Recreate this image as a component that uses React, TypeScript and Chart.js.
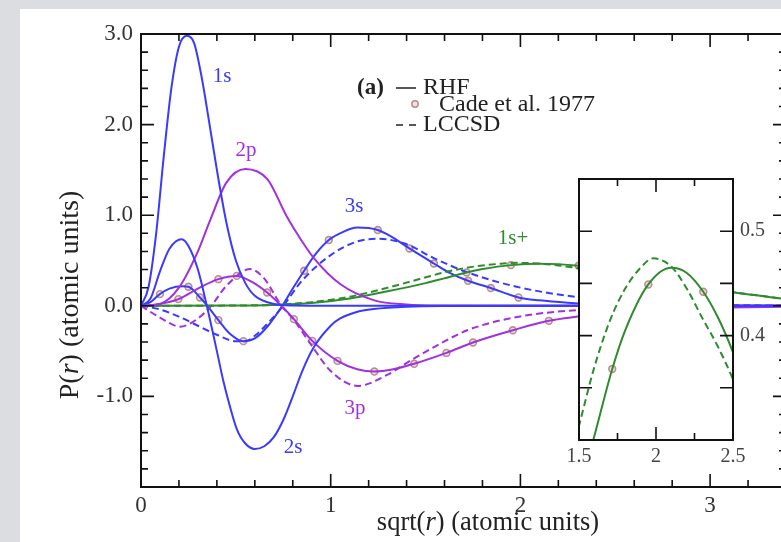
import React, { useEffect, useRef } from 'react';
import { Chart, registerables } from 'chart.js';

Chart.register(...registerables);

const SERIF = '"Liberation Serif", "Times New Roman", serif';
const BLUE = '#3a3aff';
const PURPLE = '#a030e0';
const GREEN = '#2e8b2e';
const MARK_STROKE = '#b88f8f';
const MARK_FILL = 'rgba(235,210,210,0.7)';

// ---------- data (x = sqrt(r), y = P(r)) ----------
const s1X = [0, 0.04, 0.08, 0.12, 0.16, 0.2, 0.242, 0.28, 0.32, 0.36, 0.4, 0.45, 0.5, 0.55, 0.6, 0.7, 0.8, 1.0, 1.5, 2.0, 3.0, 3.4];
const s1Y = [0, 0.21, 0.8, 1.65, 2.4, 2.86, 2.98, 2.9, 2.52, 2.02, 1.5, 0.92, 0.5, 0.25, 0.11, 0.02, 0.003, 0, 0, 0, 0, 0];

const s2X = [0, 0.05, 0.1, 0.15, 0.215, 0.25, 0.3, 0.347, 0.4, 0.434, 0.47, 0.505, 0.55, 0.6, 0.65, 0.7, 0.75, 0.8, 0.85, 0.91, 1.0, 1.05, 1.15, 1.226, 1.4, 1.6, 2.0, 3.4];
const s2Y = [0, 0.08, 0.38, 0.63, 0.735, 0.66, 0.4, 0, -0.5, -0.83, -1.12, -1.36, -1.52, -1.58, -1.55, -1.45, -1.26, -1.0, -0.72, -0.46, -0.22, -0.14, -0.06, -0.035, -0.01, -0.002, 0, 0];

const s3X = [0, 0.05, 0.1, 0.15, 0.22, 0.25, 0.311, 0.35, 0.408, 0.47, 0.54, 0.6, 0.67, 0.745, 0.8, 0.86, 0.92, 0.99, 1.06, 1.14, 1.248, 1.33, 1.415, 1.544, 1.63, 1.724, 1.844, 1.99, 2.1, 2.25, 2.5, 2.8, 3.4];
const s3Y = [0, 0.04, 0.13, 0.19, 0.215, 0.21, 0.092, 0, -0.158, -0.31, -0.39, -0.36, -0.22, 0, 0.19, 0.387, 0.57, 0.726, 0.81, 0.863, 0.836, 0.75, 0.633, 0.467, 0.36, 0.276, 0.196, 0.092, 0.06, 0.035, 0.012, 0.003, 0];
const s3dX = [0, 0.1, 0.2, 0.3, 0.4, 0.5, 0.55, 0.6, 0.67, 0.75, 0.85, 1.0, 1.14, 1.25, 1.4, 1.54, 1.72, 1.98, 2.32, 2.6, 3.0, 3.4];
const s3dY = [0, -0.04, -0.12, -0.22, -0.32, -0.39, -0.39, -0.33, -0.19, 0, 0.28, 0.56, 0.71, 0.74, 0.68, 0.53, 0.37, 0.21, 0.09, 0.035, 0.01, 0.003];

const p2X = [0, 0.1, 0.2, 0.3, 0.36, 0.45, 0.55, 0.665, 0.77, 0.84, 0.91, 1.05, 1.23, 1.4, 1.6, 2.0, 3.4];
const p2Y = [0, 0.02, 0.2, 0.6, 0.92, 1.36, 1.51, 1.4, 0.98, 0.74, 0.53, 0.24, 0.06, 0.015, 0.003, 0, 0];

const p3X = [0, 0.1, 0.197, 0.3, 0.408, 0.505, 0.58, 0.665, 0.74, 0.806, 0.903, 1.036, 1.14, 1.23, 1.33, 1.44, 1.61, 1.75, 1.96, 2.15, 2.43, 2.8, 3.1, 3.4];
const p3Y = [0, 0.02, 0.074, 0.19, 0.294, 0.33, 0.27, 0.147, 0, -0.147, -0.387, -0.608, -0.7, -0.725, -0.7, -0.64, -0.52, -0.405, -0.27, -0.166, -0.09, -0.04, -0.02, -0.01];
const p3dX = [0, 0.1, 0.206, 0.3, 0.37, 0.45, 0.577, 0.65, 0.74, 0.8, 0.9, 1.0, 1.142, 1.3, 1.424, 1.55, 1.72, 1.99, 2.25, 2.6, 3.0, 3.4];
const p3dY = [0, -0.13, -0.23, -0.14, 0, 0.22, 0.405, 0.3, 0, -0.14, -0.44, -0.72, -0.884, -0.76, -0.6, -0.45, -0.27, -0.12, -0.055, -0.02, -0.005, 0];

const pos1sX = [0, 0.5, 0.7, 0.9, 1.1, 1.3, 1.5, 1.593, 1.716, 1.8, 1.95, 2.1, 2.2, 2.307, 2.4, 2.5, 2.7, 2.9, 3.13, 3.4];
const pos1sY = [0, 0.002, 0.01, 0.03, 0.08, 0.16, 0.25, 0.3, 0.368, 0.405, 0.449, 0.465, 0.46, 0.442, 0.418, 0.384, 0.3, 0.22, 0.147, 0.074];
const pos1sdX = [0, 0.5, 0.7, 0.9, 1.1, 1.3, 1.506, 1.6, 1.7, 1.8, 1.9, 1.983, 2.1, 2.2, 2.3, 2.4, 2.5, 2.7, 2.9, 3.13, 3.4];
const pos1sdY = [0, 0.003, 0.012, 0.04, 0.1, 0.2, 0.317, 0.37, 0.414, 0.445, 0.465, 0.474, 0.466, 0.445, 0.417, 0.39, 0.358, 0.28, 0.21, 0.147, 0.075];

const cade3sX = [0.1, 0.25, 0.311, 0.408, 0.54, 0.86, 0.99, 1.248, 1.415, 1.544, 1.724, 1.844, 1.99];
const cade3sY = [0.129, 0.21, 0.092, -0.158, -0.39, 0.387, 0.726, 0.836, 0.633, 0.467, 0.276, 0.196, 0.092];
const cade3pX = [0.197, 0.408, 0.505, 0.665, 0.806, 0.903, 1.036, 1.23, 1.44, 1.61, 1.75, 1.96, 2.15];
const cade3pY = [0.074, 0.294, 0.33, 0.147, -0.147, -0.387, -0.608, -0.725, -0.64, -0.52, -0.405, -0.27, -0.166];
const cade1spX = [1.716, 1.95, 2.307];
const cade1spY = [0.368, 0.449, 0.442];

const curveLabels = [
  { text: '1s', color: BLUE, x: 222, y: 76 },
  { text: '2p', color: PURPLE, x: 246, y: 150 },
  { text: '3s', color: BLUE, x: 354, y: 206 },
  { text: '1s+', color: GREEN, x: 513, y: 238 },
  { text: '3p', color: PURPLE, x: 355, y: 408 },
  { text: '2s', color: BLUE, x: 293, y: 447 },
];

const pts = (xs: number[], ys: number[]) => xs.map((x, i) => ({ x, y: ys[i] }));
const near = (a: number, b: number) => Math.abs(a - b) < 1e-6;
const isInt = (v: number) => near(v, Math.round(v));

function lineDS(label: string, xs: number[], ys: number[], color: string, dashed = false) {
  return {
    type: 'line' as const,
    label,
    data: pts(xs, ys),
    borderColor: color,
    backgroundColor: color,
    borderWidth: 2,
    borderDash: dashed ? [7, 4] : [],
    pointRadius: 0,
    fill: false,
    cubicInterpolationMode: 'monotone' as const,
  };
}
function markDS(label: string, xs: number[], ys: number[]) {
  return {
    type: 'scatter' as const,
    label,
    data: pts(xs, ys),
    borderColor: MARK_STROKE,
    backgroundColor: MARK_FILL,
    borderWidth: 1.6,
    pointRadius: 3.4,
    showLine: false,
  };
}

function drawMixed(ctx: CanvasRenderingContext2D, parts: { t: string; it?: boolean }[], size: number, cx: number, cy: number) {
  const widths = parts.map((p) => {
    ctx.font = `${p.it ? 'italic ' : ''}${size}px ${SERIF}`;
    return ctx.measureText(p.t).width;
  });
  const total = widths.reduce((a, b) => a + b, 0);
  let x = cx - total / 2;
  ctx.textAlign = 'left';
  ctx.textBaseline = 'middle';
  parts.forEach((p, i) => {
    ctx.font = `${p.it ? 'italic ' : ''}${size}px ${SERIF}`;
    ctx.fillText(p.t, x, cy);
    x += widths[i];
  });
}

export default function App() {
  const mainRef = useRef<HTMLCanvasElement>(null);
  const insetRef = useRef<HTMLCanvasElement>(null);

  useEffect(() => {
    document.body.style.margin = '0';
    const mainFrame = {
      id: 'mainFrame',
      afterDatasetsDraw(chart: any) {
        const { ctx, chartArea: a, scales } = chart;
        ctx.save();
        ctx.strokeStyle = '#111';
        ctx.lineWidth = 1.6;
        scales.x.ticks.forEach((t: any) => {
          const p = scales.x.getPixelForValue(t.value);
          const len = isInt(t.value) ? 13 : 7;
          ctx.beginPath();
          ctx.moveTo(p, a.bottom); ctx.lineTo(p, a.bottom - len);
          ctx.moveTo(p, a.top); ctx.lineTo(p, a.top + len);
          ctx.stroke();
        });
        scales.y.ticks.forEach((t: any) => {
          const p = scales.y.getPixelForValue(t.value);
          const len = isInt(t.value) ? 13 : 7;
          ctx.beginPath();
          ctx.moveTo(a.left, p); ctx.lineTo(a.left + len, p);
          ctx.moveTo(a.right, p); ctx.lineTo(a.right - len, p);
          ctx.stroke();
        });
        ctx.lineWidth = 2;
        ctx.strokeRect(a.left, a.top, a.right - a.left, a.bottom - a.top);
        ctx.restore();
      },
      afterDraw(chart: any) {
        const ctx = chart.ctx as CanvasRenderingContext2D;
        ctx.save();
        // axis titles
        ctx.fillStyle = '#222';
        drawMixed(ctx, [{ t: 'sqrt(' }, { t: 'r', it: true }, { t: ') (atomic units)' }], 26.5, 488, 523);
        ctx.save();
        ctx.translate(71, 295);
        ctx.rotate(-Math.PI / 2);
        drawMixed(ctx, [{ t: 'P(' }, { t: 'r', it: true }, { t: ') (atomic units)' }], 28, 0, 0);
        ctx.restore();
        // curve labels
        ctx.textAlign = 'center';
        ctx.textBaseline = 'middle';
        ctx.font = `21px ${SERIF}`;
        curveLabels.forEach((l) => {
          ctx.fillStyle = l.color;
          ctx.fillText(l.text, l.x, l.y);
        });
        // legend
        ctx.fillStyle = '#222';
        ctx.textAlign = 'left';
        ctx.font = `bold 23px ${SERIF}`;
        ctx.fillText('(a)', 357, 88);
        ctx.font = `24px ${SERIF}`;
        ctx.fillText('RHF', 423, 88);
        ctx.fillText('Cade et al. 1977', 439, 105);
        ctx.fillText('LCCSD', 423, 125);
        ctx.strokeStyle = '#222';
        ctx.lineWidth = 1.5;
        ctx.beginPath();
        ctx.moveTo(396, 88); ctx.lineTo(416, 88);
        ctx.moveTo(396, 125); ctx.lineTo(403, 125);
        ctx.moveTo(409, 125); ctx.lineTo(416, 125);
        ctx.stroke();
        ctx.beginPath();
        ctx.arc(415, 104, 3.2, 0, Math.PI * 2);
        ctx.fillStyle = MARK_FILL;
        ctx.fill();
        ctx.strokeStyle = MARK_STROKE;
        ctx.lineWidth = 1.5;
        ctx.stroke();
        ctx.restore();
      },
    };

    const main = new Chart(mainRef.current!, {
      type: 'line',
      data: {
        datasets: [
          lineDS('1s', s1X, s1Y, BLUE),
          lineDS('2s', s2X, s2Y, BLUE),
          lineDS('2p', p2X, p2Y, PURPLE),
          lineDS('1s+', pos1sX, pos1sY, GREEN),
          lineDS('1s+ LCCSD', pos1sdX, pos1sdY, GREEN, true),
          lineDS('3p', p3X, p3Y, PURPLE),
          lineDS('3p LCCSD', p3dX, p3dY, PURPLE, true),
          lineDS('3s', s3X, s3Y, BLUE),
          lineDS('3s LCCSD', s3dX, s3dY, BLUE, true),
          markDS('Cade 3s', cade3sX, cade3sY),
          markDS('Cade 3p', cade3pX, cade3pY),
          markDS('Cade 1s+', cade1spX, cade1spY),
        ] as any,
      },
      options: {
        responsive: false,
        animation: false,
        devicePixelRatio: 1,
        layout: { padding: { left: 0, top: 34, right: 14, bottom: 0 } },
        plugins: { legend: { display: false }, tooltip: { enabled: false } },
        scales: {
          x: {
            type: 'linear',
            min: 0,
            max: 3.4,
            grid: { display: false, drawTicks: false },
            border: { display: false },
            ticks: {
              stepSize: 0.2,
              autoSkip: false,
              maxRotation: 0,
              padding: 5,
              color: '#333',
              font: { family: SERIF, size: 23 },
              callback: (v: any) => (isInt(Number(v)) ? String(Math.round(Number(v))) : ''),
            },
            afterFit: (s: any) => { s.height = 55; },
          },
          y: {
            type: 'linear',
            min: -2,
            max: 3,
            grid: { display: false, drawTicks: false },
            border: { display: false },
            ticks: {
              stepSize: 0.2,
              autoSkip: false,
              padding: 8,
              color: '#333',
              font: { family: SERIF, size: 23 },
              callback: (v: any) => {
                const n = Number(v);
                return isInt(n) && n > -1.5 ? n.toFixed(1) : '';
              },
            },
            afterFit: (s: any) => { s.width = 141; },
          },
        },
      },
      plugins: [mainFrame],
    });

    const insetFrame = {
      id: 'insetFrame',
      beforeDatasetsDraw(chart: any) {
        const { ctx, chartArea: a } = chart;
        ctx.save();
        ctx.fillStyle = '#fff';
        ctx.fillRect(a.left, a.top, a.right - a.left, a.bottom - a.top);
        ctx.restore();
      },
      afterDatasetsDraw(chart: any) {
        const { ctx, chartArea: a, scales } = chart;
        ctx.save();
        ctx.strokeStyle = '#111';
        ctx.lineWidth = 1.6;
        scales.x.ticks.forEach((t: any) => {
          const p = scales.x.getPixelForValue(t.value);
          const len = near(t.value, 2) ? 13 : 7;
          ctx.beginPath();
          ctx.moveTo(p, a.bottom); ctx.lineTo(p, a.bottom - len);
          ctx.moveTo(p, a.top); ctx.lineTo(p, a.top + len);
          ctx.stroke();
        });
        scales.y.ticks.forEach((t: any) => {
          const p = scales.y.getPixelForValue(t.value);
          ctx.beginPath();
          ctx.moveTo(a.left, p); ctx.lineTo(a.left + 13, p);
          ctx.moveTo(a.right, p); ctx.lineTo(a.right - 13, p);
          ctx.stroke();
        });
        ctx.lineWidth = 2;
        ctx.strokeRect(a.left, a.top, a.right - a.left, a.bottom - a.top);
        ctx.restore();
      },
    };

    const inset = new Chart(insetRef.current!, {
      type: 'line',
      data: {
        datasets: [
          lineDS('1s+', pos1sX, pos1sY, GREEN),
          lineDS('1s+ LCCSD', pos1sdX, pos1sdY, GREEN, true),
          markDS('Cade 1s+', cade1spX, cade1spY),
        ] as any,
      },
      options: {
        responsive: false,
        animation: false,
        devicePixelRatio: 1,
        layout: { padding: { left: 19, top: 16, right: 0, bottom: 0 } },
        plugins: { legend: { display: false }, tooltip: { enabled: false } },
        scales: {
          x: {
            type: 'linear',
            min: 1.5,
            max: 2.5,
            grid: { display: false, drawTicks: false },
            border: { display: false },
            ticks: {
              stepSize: 0.25,
              autoSkip: false,
              maxRotation: 0,
              padding: 5,
              color: '#444',
              font: { family: SERIF, size: 20 },
              callback: (v: any) => {
                const n = Number(v);
                if (near(n, 1.5)) return '1.5';
                if (near(n, 2)) return '2';
                if (near(n, 2.5)) return '2.5';
                return '';
              },
            },
            afterFit: (s: any) => { s.height = 40; },
          },
          y: {
            type: 'linear',
            position: 'right',
            min: 0.3,
            max: 0.55,
            grid: { display: false, drawTicks: false },
            border: { display: false },
            ticks: {
              stepSize: 0.05,
              autoSkip: false,
              padding: 7,
              color: '#444',
              font: { family: SERIF, size: 20 },
              callback: (v: any) => {
                const n = Number(v);
                if (near(n, 0.4)) return '0.4';
                if (near(n, 0.5)) return '0.5';
                return '';
              },
            },
            afterFit: (s: any) => { s.width = 47; },
          },
        },
      },
      plugins: [insetFrame],
    });

    return () => {
      main.destroy();
      inset.destroy();
    };
  }, []);

  return (
    <div style={{ position: 'relative', width: 781, height: 542, overflow: 'hidden', background: '#dcdde0' }}>
      <div style={{ position: 'absolute', left: 20, top: 9, right: 0, bottom: 0, background: '#fff' }} />
      <canvas ref={mainRef} width={800} height={542} style={{ position: 'absolute', left: 0, top: 0 }} />
      <canvas ref={insetRef} width={220} height={320} style={{ position: 'absolute', left: 560, top: 160 }} />
    </div>
  );
}
